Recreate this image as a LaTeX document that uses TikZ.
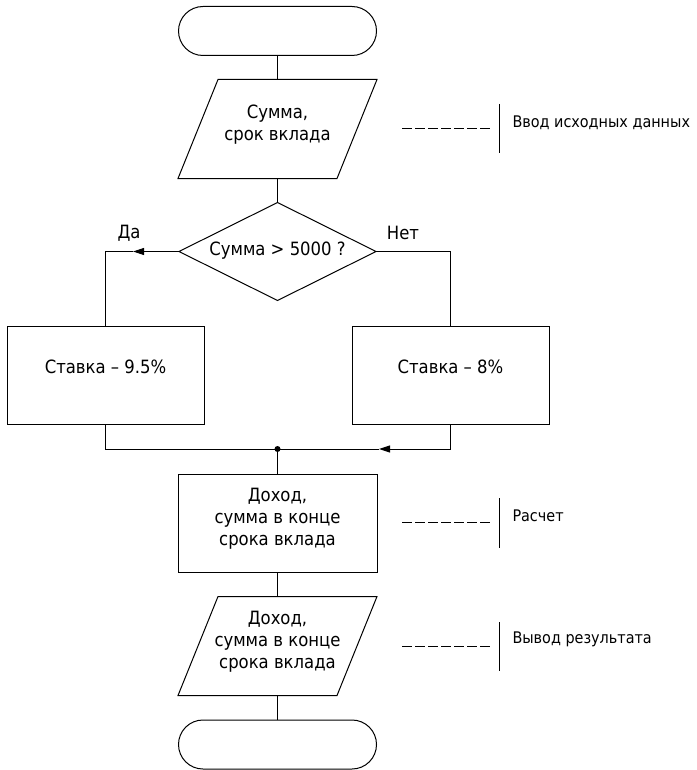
\documentclass[tikz,border=0pt]{standalone}
\usepackage{fontspec}
\setmainfont{DejaVu Sans Condensed}
\usetikzlibrary{arrows.meta}
\begin{document}
\begin{tikzpicture}[x=1pt,y=-1pt, line width=1pt,
  every node/.style={font=\fontsize{18.3}{22}\selectfont},
  term/.style={draw, rounded corners=24.5pt, minimum width=198pt, minimum height=49pt, inner sep=0},
  proc/.style={draw, minimum width=197pt, minimum height=98pt, inner sep=0},
  ghost/.style={minimum width=198pt, minimum height=98pt, inner sep=0},
  txt/.style={align=center, inner sep=0},
  note/.style={font=\fontsize{16}{19}\selectfont, anchor=west, inner sep=0},
  tip/.style={-{Triangle[length=11pt,width=7pt]}},
  dashline/.style={line width=0.8pt, dash pattern=on 10pt off 3pt},
  barline/.style={line width=0.8pt}
]
\useasboundingbox (0,0) rectangle (696,770);
% shapes
\node[term] (start) at (277.5,31) {};
\node[ghost] (in) at (277.5,129) {};
\draw ([xshift=40pt]in.north west) -- (in.north east) -- ([xshift=-40pt]in.south east) -- (in.south west) -- cycle;
\node[txt] (intext) at (277.5,125) {Сумма,\\срок вклада};
\node[ghost, minimum width=196pt, minimum height=97pt] (dec) at (277.5,251.5) {};
\draw (dec.north) -- (dec.east) -- (dec.south) -- (dec.west) -- cycle;
\node[txt] (dectext) at (277.5,251) {Сумма > 5000 ?};
\node[txt] (yes) at (129,233) {Да};
\node[txt] (no) at (403,233) {Нет};
\node[proc] (lb) at (105.5,375) {};
\node[txt] (lbtext) at (105.5,367) {Ставка – 9.5\%};
\node[proc] (rb) at (450.5,375) {};
\node[txt] (rbtext) at (450.5,367) {Ставка – 8\%};
\coordinate (m) at (277.5,449);
\node[proc, minimum width=199pt] (calc) at (277.5,523) {};
\node[txt] (calctext) at (277.5,519) {Доход,\\сумма в конце\\срока вклада};
\node[ghost] (out) at (277.5,646) {};
\draw ([xshift=40pt]out.north west) -- (out.north east) -- ([xshift=-40pt]out.south east) -- (out.south west) -- cycle;
\node[txt] (outtext) at (277.5,642) {Доход,\\сумма в конце\\срока вклада};
\node[term] (end) at (277.5,744.5) {};
% connectors
\draw (start.south) -- (in.north);
\draw (in.south) -- (dec.north);
\coordinate (tl) at (133,251.5);
\draw[tip] (dec.west) -- (tl);
\draw (tl) -| (lb.north);
\draw (dec.east) -| (rb.north);
\draw (lb.south) |- (m);
\coordinate (tb) at (379,449);
\draw[tip] (rb.south) |- (tb);
\draw (tb) -- (m);
\fill (m) circle (3pt);
\draw (m) -- (calc.north);
\draw (calc.south) -- (out.north);
\draw (out.south) -- (end.north);
% annotations
\coordinate (a1s) at (402,128); \coordinate (a1e) at (490,128);
\coordinate (b1t) at (499,104); \coordinate (b1b) at (499,153);
\draw[dashline] (a1s) -- (a1e);
\draw[barline] (b1t) -- (b1b);
\node[note] (n1) at (512,123) {Ввод исходных данных};
\coordinate (a2s) at (402,522); \coordinate (a2e) at (490,522);
\coordinate (b2t) at (499,498); \coordinate (b2b) at (499,548);
\draw[dashline] (a2s) -- (a2e);
\draw[barline] (b2t) -- (b2b);
\node[note] (n2) at (512,516) {Расчет};
\coordinate (a3s) at (402,646); \coordinate (a3e) at (490,646);
\coordinate (b3t) at (499,622); \coordinate (b3b) at (499,671);
\draw[dashline] (a3s) -- (a3e);
\draw[barline] (b3t) -- (b3b);
\node[note] (n3) at (512,639) {Вывод результата};
\end{tikzpicture}
\end{document}
